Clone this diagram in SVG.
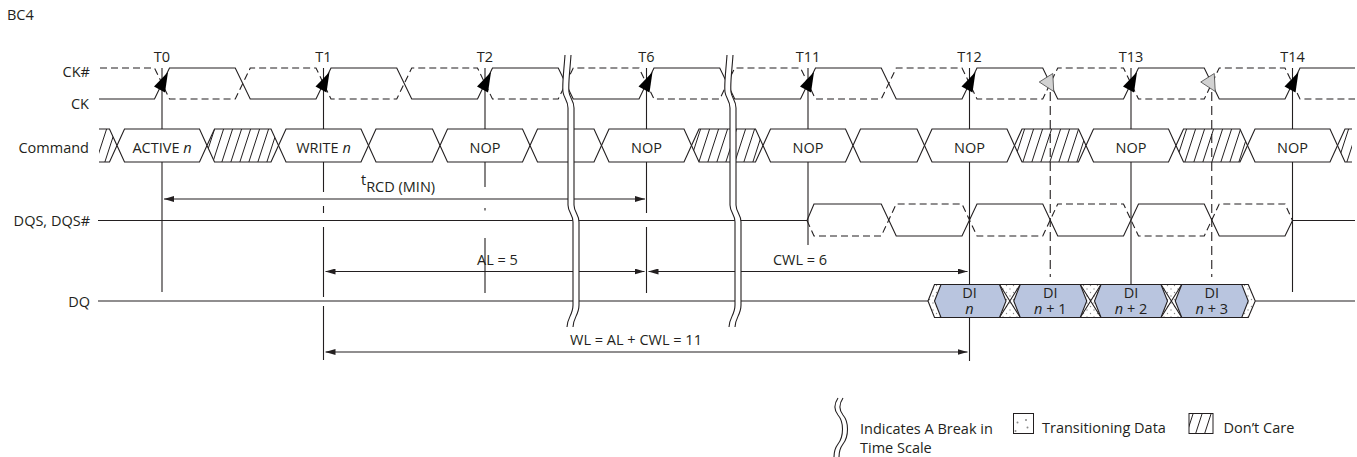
<svg xmlns="http://www.w3.org/2000/svg" xmlns:xlink="http://www.w3.org/1999/xlink" width="1357" height="457" viewBox="0 0 1357 457">
<style>
.t{font-family:"Open Sans","Liberation Sans",sans-serif;font-size:14.5px;fill:#231f20}
.mid{text-anchor:middle}
.end{text-anchor:end}
.it{font-style:italic}
.ln{stroke:#231f20;stroke-width:1.1;fill:none}
.ds{stroke:#231f20;stroke-width:1.1;fill:none;stroke-dasharray:7 4}
.vd{stroke:#231f20;stroke-width:1.1;fill:none;stroke-dasharray:9 5}
.box{fill:#fff;stroke:#231f20;stroke-width:1.1}
.hb{fill:url(#hatch);stroke:#231f20;stroke-width:1.1}
.di{fill:#b9c5df;stroke:#231f20;stroke-width:1.1}
.ck{fill:#000}
.gk{fill:#d2d2d2;stroke:#444;stroke-width:0.8}
.dim{stroke:#231f20;stroke-width:1.1;fill:none;marker-start:url(#ah);marker-end:url(#ah)}
</style>
<defs>
<pattern id="hatch" patternUnits="userSpaceOnUse" width="9" height="40" patternTransform="skewX(-18)">
<rect width="9" height="40" fill="#fff"/>
<line x1="4.5" y1="-1" x2="4.5" y2="41" stroke="#231f20" stroke-width="1"/>
</pattern>
<pattern id="dots" patternUnits="userSpaceOnUse" width="7" height="7">
<rect width="7" height="7" fill="#fff"/>
<circle cx="2" cy="2" r="0.7" fill="#8a8a8a"/>
<circle cx="5.5" cy="5.5" r="0.7" fill="#8a8a8a"/>
</pattern>
<marker id="ah" viewBox="0 0 10 6" refX="10" refY="3" markerWidth="10" markerHeight="6" markerUnits="userSpaceOnUse" orient="auto-start-reverse">
<path d="M0,0 L10,3 L0,6 z" fill="#231f20"/>
</marker>
<g id="brk">
<path d="M568,55 C567,70 565,84 566,92 C567,99 571,100 571,108 L571,205 C571,212 576,214 576,222 L576,305 C576,315 570,318 570,327" stroke="#fff" stroke-width="6" fill="none"/>
<path d="M565,55 C564,70 562,84 563,92 C564,99 568,100 568,108 L568,205 C568,212 573,214 573,222 L573,305 C573,315 567,318 567,327" class="ln"/>
<path d="M571,55 C570,70 568,84 569,92 C570,99 574,100 574,108 L574,205 C574,212 579,214 579,222 L579,305 C579,315 573,318 573,327" class="ln"/>
</g>
</defs>

<g id="t-lines" class="ln">
<path d="M162,68V292"/>
<path d="M323.5,68V192 M323.5,206V213 M323.5,227V297 M323.5,306V360"/>
<path d="M485,68V187 M485,208V210.5 M485,238V293"/>
<path d="M646.5,68V213 M646.5,227V293"/>
<path d="M808,68V245"/>
<path d="M969.5,68V361"/>
<path d="M1131,68V284"/>
<path d="M1292.5,68V292"/>
</g>

<g id="ck">
<path class="ln" d="M99,99 L154.5,99 L169.5,68 L235.25,68 L250.25,99 L316,99 L331,68 L396.75,68 L411.75,99 L477.5,99 L492.5,68 L558.25,68 L573.25,99 L639,99 L654,68 L719.75,68 L734.75,99 L800.5,99 L815.5,68 L881.25,68 L896.25,99 L962,99 L977,68 L1042.75,68 L1057.75,99 L1123.5,99 L1138.5,68 L1204.25,68 L1219.25,99 L1285,99 L1300,68 L1355,68"/>
</g>
<g id="ck-n">
<path class="ds" d="M100,68 L154.5,68 L169.5,99 L235.25,99 L250.25,68 L316,68 L331,99 L396.75,99 L411.75,68 L477.5,68 L492.5,99 L558.25,99 L573.25,68 L639,68 L654,99 L719.75,99 L734.75,68 L800.5,68 L815.5,99 L881.25,99 L896.25,68 L962,68 L977,99 L1042.75,99 L1057.75,68 L1123.5,68 L1138.5,99 L1204.25,99 L1219.25,68 L1285,68 L1300,99 L1355,99"/>
</g>
<g id="ck-arrows">
<polygon class="ck" points="168,72 154,86.5 165,92.5"/>
<polygon class="ck" points="329.5,72 315.5,86.5 326.5,92.5"/>
<polygon class="ck" points="491,72 477,86.5 488,92.5"/>
<polygon class="ck" points="652.5,72 638.5,86.5 649.5,92.5"/>
<polygon class="ck" points="814,72 800,86.5 811,92.5"/>
<polygon class="ck" points="975.5,72 961.5,86.5 972.5,92.5"/>
<polygon class="ck" points="1137,72 1123,86.5 1134,92.5"/>
<polygon class="ck" points="1298.5,72 1284.5,86.5 1295.5,92.5"/>
<polygon class="gk" points="1039.25,82 1052.75,73.5 1053.75,91.5"/>
<polygon class="gk" points="1200.75,82 1214.25,73.5 1215.25,91.5"/>
</g>

<g id="command">
<polygon points="99,129 109.5,129 117,145.5 109.5,162 99,162" fill="url(#hatch)"/>
<polyline class="ln" points="99,129 109.5,129 117,145.5 109.5,162 99,162"/>
<polygon class="box" points="117,145.5 124.5,129 199.5,129 207,145.5 199.5,162 124.5,162"/>
<polygon class="hb" points="207,145.5 214.5,129 271,129 278.5,145.5 271,162 214.5,162"/>
<polygon class="box" points="278.5,145.5 286,129 361,129 368.5,145.5 361,162 286,162"/>
<polygon class="box" points="368.5,145.5 376,129 432.5,129 440,145.5 432.5,162 376,162"/>
<polygon class="box" points="440,145.5 447.5,129 522.5,129 530,145.5 522.5,162 447.5,162"/>
<polygon class="box" points="530,145.5 537.5,129 594,129 601.5,145.5 594,162 537.5,162"/>
<polygon class="box" points="601.5,145.5 609,129 684,129 691.5,145.5 684,162 609,162"/>
<polygon class="hb" points="691.5,145.5 699,129 755.5,129 763,145.5 755.5,162 699,162"/>
<polygon class="box" points="763,145.5 770.5,129 845.5,129 853,145.5 845.5,162 770.5,162"/>
<polygon class="box" points="853,145.5 860.5,129 917,129 924.5,145.5 917,162 860.5,162"/>
<polygon class="box" points="924.5,145.5 932,129 1007,129 1014.5,145.5 1007,162 932,162"/>
<polygon class="hb" points="1014.5,145.5 1022,129 1078.5,129 1086,145.5 1078.5,162 1022,162"/>
<polygon class="box" points="1086,145.5 1093.5,129 1168.5,129 1176,145.5 1168.5,162 1093.5,162"/>
<polygon class="hb" points="1176,145.5 1183.5,129 1240,129 1247.5,145.5 1240,162 1183.5,162"/>
<polygon class="box" points="1247.5,145.5 1255,129 1330,129 1337.5,145.5 1330,162 1255,162"/>
<polygon points="1337.5,145.5 1345,129 1352,129 1352,162 1345,162" fill="url(#hatch)"/>
<polyline class="ln" points="1352,129 1345,129 1337.5,145.5 1345,162 1352,162"/>
<text class="t mid" x="162" y="152.5">ACTIVE <tspan class="it">n</tspan></text>
<text class="t mid" x="323.5" y="152.5">WRITE <tspan class="it">n</tspan></text>
<text class="t mid" x="485" y="152.5">NOP</text>
<text class="t mid" x="646.5" y="152.5">NOP</text>
<text class="t mid" x="808" y="152.5">NOP</text>
<text class="t mid" x="969.5" y="152.5">NOP</text>
<text class="t mid" x="1131" y="152.5">NOP</text>
<text class="t mid" x="1292.5" y="152.5">NOP</text>
</g>

<g id="dq-marks">
<path class="vd" d="M1050.25,92V277"/>
<path class="vd" d="M1211.75,92V277"/>
</g>

<g id="dqs">
<path class="ln" d="M98,220.5 L807,220.5 L814,204 L881.25,204 L896.25,236 L962,236 L977,204 L1042.75,204 L1057.75,236 L1123.5,236 L1138.5,204 L1204.25,204 L1219.25,236 L1285,236 L1292.5,220.5 L1355,220.5"/>
<path class="ds" d="M807,220.5 L814,236 L881.25,236 L896.25,204 L962,204 L977,236 L1042.75,236 L1057.75,204 L1123.5,204 L1138.5,236 L1204.25,236 L1219.25,204 L1285,204 L1292.5,220.5"/>
</g>

<g id="dq">
<path class="ln" d="M98,301 L928,301 M1255.25,301 L1355,301"/>
<polygon points="928,301 934.5,284.5 1248.25,284.5 1255.25,301 1248.25,317.5 934.5,317.5" fill="url(#dots)" stroke="#231f20" stroke-width="1.1"/>
<path class="ln" d="M999.5,284.5L1020.25,317.5M999.5,317.5L1020.25,284.5M1080.25,284.5L1101,317.5M1080.25,317.5L1101,284.5M1161,284.5L1181.75,317.5M1161,317.5L1181.75,284.5"/>
<g id="di-n"><polygon class="di" points="934.5,301 941,284.5 999.5,284.5 1006,301 999.5,317.5 941,317.5"/>
<text class="t mid" x="969.5" y="298">DI<tspan x="969.5" dy="15.5" class="it">n</tspan></text></g>
<g id="di-n1"><polygon class="di" points="1013.75,301 1020.25,284.5 1080.25,284.5 1086.75,301 1080.25,317.5 1020.25,317.5"/>
<text class="t mid" x="1050.25" y="298">DI<tspan x="1050.25" dy="15.5"><tspan class="it">n</tspan> + 1</tspan></text></g>
<g id="di-n2"><polygon class="di" points="1094.5,301 1101,284.5 1161,284.5 1167.5,301 1161,317.5 1101,317.5"/>
<text class="t mid" x="1131" y="298">DI<tspan x="1131" dy="15.5"><tspan class="it">n</tspan> + 2</tspan></text></g>
<g id="di-n3"><polygon class="di" points="1175.25,301 1181.75,284.5 1241.75,284.5 1248.25,301 1241.75,317.5 1181.75,317.5"/>
<text class="t mid" x="1211.75" y="298">DI<tspan x="1211.75" dy="15.5"><tspan class="it">n</tspan> + 3</tspan></text></g>
</g>

<g id="connectors">
<line class="dim" x1="164" y1="199" x2="645" y2="199"/>
<line class="dim" x1="325.5" y1="271.5" x2="644.5" y2="271.5"/>
<line class="dim" x1="648.5" y1="271.5" x2="967.5" y2="271.5"/>
<line class="dim" x1="325.5" y1="352" x2="967.5" y2="352"/>
<text class="t" x="361" y="185">t<tspan dy="7">RCD (MIN)</tspan></text>
<text class="t mid" x="497.5" y="265">AL = 5</text>
<text class="t mid" x="800" y="265">CWL = 6</text>
<text class="t mid" x="636" y="345">WL = AL + CWL = 11</text>
</g>

<g id="breaks">
<use xlink:href="#brk" href="#brk"/>
<use xlink:href="#brk" href="#brk" x="162"/>
</g>

<g id="labels">
<text class="t" x="7" y="20">BC4</text>
<text class="t end" x="90" y="76.5">CK#</text>
<text class="t end" x="89" y="109">CK</text>
<text class="t end" x="89" y="153">Command</text>
<text class="t end" x="90" y="226">DQS, DQS#</text>
<text class="t end" x="90" y="306.5">DQ</text>
<text class="t mid" x="162" y="61.5">T0</text>
<text class="t mid" x="323.5" y="61.5">T1</text>
<text class="t mid" x="485" y="61.5">T2</text>
<text class="t mid" x="646.5" y="61.5">T6</text>
<text class="t mid" x="808" y="61.5">T11</text>
<text class="t mid" x="969.5" y="61.5">T12</text>
<text class="t mid" x="1131" y="61.5">T13</text>
<text class="t mid" x="1292.5" y="61.5">T14</text>
</g>

<g id="legend">
<path class="ln" d="M838,398 C834,404 834,410 838,415 C844,422 844,436 838,444 C835,448 834,452 834,457"/>
<path class="ln" d="M843,398 C839,404 839,410 843,415 C849,422 849,436 843,444 C840,448 839,452 839,457"/>
<text class="t" x="860" y="434">Indicates A Break in<tspan x="860" dy="18.5">Time Scale</tspan></text>
<rect x="1013.5" y="413.5" width="20" height="20" fill="#fff" stroke="#231f20" stroke-width="1"/>
<circle cx="1017.5" cy="422.5" r="1" fill="#8a8a8a"/>
<circle cx="1026" cy="420" r="1" fill="#8a8a8a"/>
<circle cx="1027.5" cy="427.5" r="1" fill="#8a8a8a"/>
<circle cx="1015.5" cy="431" r="1" fill="#8a8a8a"/>
<text class="t" x="1042" y="433">Transitioning Data</text>
<rect x="1189" y="413.5" width="24" height="20" fill="url(#hatch)" stroke="#231f20" stroke-width="1"/>
<text class="t" x="1223.5" y="433">Don’t Care</text>
</g>
</svg>
